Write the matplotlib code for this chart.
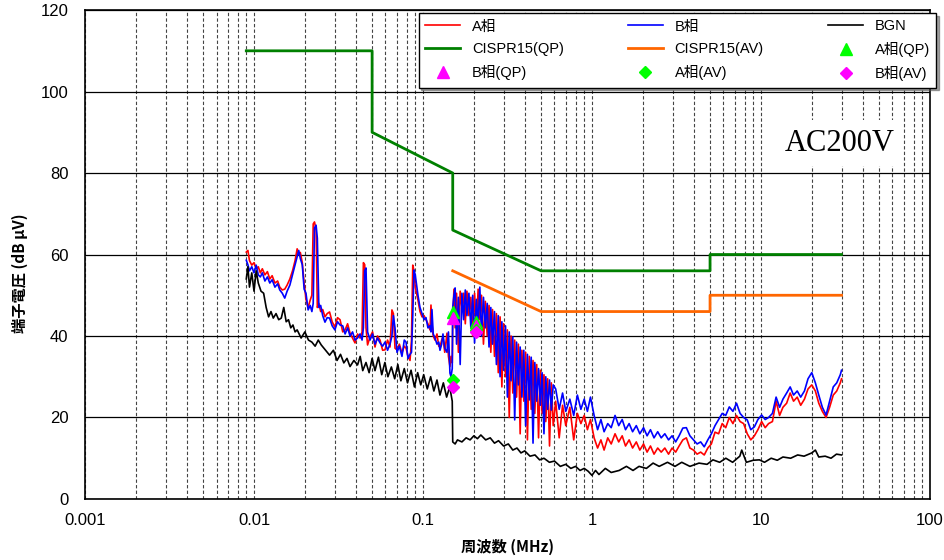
import matplotlib
matplotlib.use('Agg')
import matplotlib.pyplot as plt
from matplotlib.ticker import FixedLocator, LogLocator, NullFormatter

plt.rcParams['font.family'] = ['Liberation Sans', 'Noto Sans CJK JP', 'DejaVu Sans']

# sweep frequencies (MHz) shared by the A/B phase measurements
freq_ab = [
    0.0090, 0.0092, 0.0094, 0.0097, 0.0100, 0.0103, 0.0106, 0.0109, 0.0112, 0.0116,
    0.0120, 0.0124, 0.0128, 0.0133, 0.0138, 0.0142, 0.0147, 0.0152, 0.0157, 0.0163,
    0.0169, 0.0175, 0.0180, 0.0184, 0.0188, 0.0193, 0.0198, 0.0203, 0.0209, 0.0215,
    0.0220, 0.0224, 0.0228, 0.0233, 0.0237, 0.0242, 0.0248, 0.0255, 0.0263, 0.0271,
    0.0280, 0.0290, 0.0301, 0.0312, 0.0323, 0.0335, 0.0346, 0.0358, 0.0370, 0.0383,
    0.0396, 0.0410, 0.0424, 0.0436, 0.0444, 0.0452, 0.0460, 0.0470, 0.0486, 0.0503,
    0.0520, 0.0538, 0.0557, 0.0577, 0.0596, 0.0617, 0.0638, 0.0655, 0.0668, 0.0683,
    0.0702, 0.0725, 0.0751, 0.0775, 0.0794, 0.0815, 0.0838, 0.0855, 0.0870, 0.0885,
    0.0900, 0.0934, 0.0960, 0.0987, 0.1015, 0.1042, 0.1070, 0.1100, 0.1115, 0.1130,
    0.1150, 0.1178, 0.1210, 0.1240, 0.1261, 0.1290, 0.1313, 0.1345, 0.1387, 0.1415,
    0.1444, 0.1465, 0.1490,
    # 150 kHz band
    0.1500, 0.1525, 0.1550, 0.1580, 0.1620, 0.1660, 0.1700, 0.1740, 0.1780, 0.1820,
    0.1870, 0.1920, 0.1970, 0.2020, 0.2070, 0.2120, 0.2170, 0.2220, 0.2280, 0.2340,
    0.2400, 0.2460, 0.2520, 0.2580, 0.2650, 0.2720, 0.2790, 0.2860, 0.2930, 0.3000,
    0.3080, 0.3160, 0.3240, 0.3320, 0.3400, 0.3490, 0.3580, 0.3670, 0.3760, 0.3850,
    0.3950, 0.4050, 0.4150, 0.4260, 0.4370, 0.4480, 0.4590, 0.4710, 0.4830, 0.4950,
    0.5070, 0.5200, 0.5330, 0.5470, 0.5610, 0.5750, 0.5900,
    0.610, 0.640, 0.670, 0.700, 0.740, 0.780, 0.820, 0.860, 0.900, 0.940,
    0.980, 1.030, 1.080, 1.130, 1.180, 1.240, 1.300, 1.370, 1.440, 1.510,
    1.580, 1.660, 1.740, 1.830, 1.920, 2.020, 2.120, 2.220, 2.330, 2.450,
    2.570, 2.700, 2.840, 2.980, 3.130, 3.280, 3.450, 3.620, 3.800, 3.990,
    4.190, 4.400, 4.620, 4.850, 5.090, 5.350, 5.620, 5.900, 6.190, 6.500,
    6.830, 7.170, 7.530, 7.900, 8.300, 8.710, 9.150, 9.600, 10.10, 10.60,
    11.10, 11.70, 12.30, 12.90, 13.50, 14.20, 14.90, 15.60, 16.40, 17.20,
    18.10, 19.00, 20.00, 21.00, 22.00, 23.10, 24.30, 25.50, 26.80, 28.10,
    29.50, 30.00,
]

# A相 terminal voltage (dBuV)
level_a = [
    60.6, 61.0, 58.5, 57.4, 58.0, 56.5, 57.0, 55.5, 56.5, 55.0,
    55.8, 54.0, 54.8, 53.0, 53.5, 52.0, 51.3, 51.5, 52.5, 54.0,
    56.0, 58.5, 61.4, 60.0, 60.5, 58.0, 53.0, 49.0, 47.0, 48.8,
    50.0, 67.5, 68.0, 66.0, 47.0, 48.0, 46.0, 46.5, 44.7, 45.5,
    45.9, 43.5, 42.2, 44.5, 44.0, 41.0, 41.5, 43.0, 40.7, 39.5,
    38.3, 40.5, 39.5, 41.0, 58.0, 57.5, 42.0, 37.8, 39.8, 41.0,
    37.3, 40.0, 39.0, 36.5, 36.6, 39.0, 37.3, 46.4, 45.5, 37.0,
    36.6, 38.0, 35.8, 37.5, 37.0, 35.0, 34.0, 39.0, 57.4, 56.0,
    52.0, 48.8, 46.0, 44.7, 45.0, 44.0, 43.0, 41.5, 47.6, 43.0,
    40.0, 39.0, 40.5, 37.5, 37.3, 39.0, 39.8, 36.0, 40.7, 35.0,
    32.5, 35.0, 33.4,
    44.0, 51.5, 42.0, 50.5, 36.0, 51.0, 47.0, 50.5, 43.0, 51.0,
    45.0, 49.5, 40.0, 50.5, 41.5, 51.5, 44.0, 50.0, 38.0, 48.5,
    40.0, 47.5, 36.0, 46.5, 35.0, 45.5, 31.0, 44.7, 27.5, 43.0,
    30.0, 41.5, 20.0, 40.0, 26.0, 39.0, 25.0, 38.0, 16.0, 36.5,
    24.0, 36.0, 14.5, 35.0, 22.0, 34.0, 21.0, 33.0, 15.0, 31.6,
    21.0, 30.5, 19.0, 29.5, 13.0, 28.5, 18.0,
    24.0, 15.0, 23.0, 18.0, 22.5, 14.5, 21.0, 18.5, 20.5, 17.0,
    19.5, 15.0, 12.5, 14.5, 12.0, 15.0, 13.5, 16.0, 14.0, 15.5,
    13.0, 14.5, 12.5, 14.0, 12.0, 13.5, 11.5, 13.0, 11.0, 12.5,
    11.5, 12.5, 11.0, 12.5, 11.5, 13.0, 14.5, 15.0, 12.5, 12.0,
    11.0, 11.5, 10.8, 12.5, 13.5, 16.4, 16.0, 18.5, 17.5, 20.0,
    18.5, 20.5, 19.0, 18.5, 16.0, 14.5, 15.5, 17.0, 19.0, 17.5,
    18.5, 19.0, 24.0, 20.5, 22.5, 23.5, 26.0, 24.0, 25.0, 23.0,
    24.5, 27.0, 28.0, 26.5, 23.5, 21.5, 20.0, 22.5, 25.5, 26.5,
    28.5, 29.5,
]

# B相 terminal voltage (dBuV)
level_b = [
    58.6, 57.5, 56.0, 57.0, 55.5, 57.4, 55.0, 54.5, 55.5, 53.5,
    54.5, 53.0, 53.8, 52.0, 52.8, 51.3, 50.5, 49.3, 51.0, 52.5,
    55.0, 57.5, 59.5, 61.0, 59.0, 57.5, 51.5, 50.5, 46.4, 47.5,
    46.0, 48.0, 66.5, 67.2, 64.0, 47.0, 47.5, 45.0, 43.4, 44.5,
    44.4, 42.5, 41.5, 43.5, 42.7, 42.5, 40.5, 42.0, 40.0, 41.0,
    39.0, 39.5, 40.5, 39.0, 42.0, 56.0, 56.7, 41.0, 39.0, 40.5,
    38.0, 39.5, 38.3, 37.5, 38.5, 36.5, 38.0, 40.0, 45.0, 42.0,
    36.0, 37.5, 35.0, 39.0, 38.5, 34.5, 35.5, 36.0, 45.0, 56.2,
    55.0, 50.0, 47.0, 45.5, 44.0, 44.5, 42.0, 42.5, 41.0, 46.5,
    40.5, 39.5, 38.0, 38.5, 36.5, 38.0, 40.5, 37.0, 36.0, 41.0,
    30.9, 30.0, 32.0,
    47.0, 50.0, 51.8, 38.0, 49.5, 33.0, 50.5, 44.0, 51.3, 45.0,
    50.5, 42.0, 50.0, 38.3, 49.0, 43.0, 52.0, 40.0, 49.5, 42.0,
    48.0, 37.3, 47.0, 38.0, 46.0, 33.0, 45.0, 30.0, 43.5, 31.6,
    42.5, 25.0, 41.0, 29.0, 39.8, 19.4, 38.5, 28.0, 37.3, 25.0,
    36.5, 18.0, 35.5, 24.3, 34.8, 13.7, 33.5, 24.0, 32.0, 23.0,
    31.0, 16.0, 30.0, 22.0, 29.2, 21.8, 28.0,
    27.0, 22.0, 26.0, 21.5, 24.5, 20.5, 25.5, 22.0, 24.5, 21.5,
    25.0, 20.5, 17.0, 19.5, 16.5, 18.5, 17.5, 20.5, 18.0, 19.5,
    17.0, 18.5, 16.5, 18.0, 16.0, 17.5, 15.5, 17.0, 15.0, 16.5,
    15.0, 16.0, 14.5, 15.5, 14.0, 15.5, 17.4, 17.5, 15.5, 14.5,
    13.5, 14.0, 12.8, 14.5, 16.0, 18.0, 19.5, 21.0, 20.5, 22.6,
    21.5, 23.5, 21.0, 20.0, 19.4, 17.0, 17.7, 19.5, 20.6, 19.5,
    20.0, 21.0, 25.0, 22.5, 24.5, 26.0, 27.5, 25.5, 26.5, 25.0,
    26.5, 29.5, 31.0, 28.5, 25.5, 22.5, 20.6, 24.0, 27.5, 28.5,
    30.5, 31.6,
]

# background noise
freq_bgn = [
    0.0090, 0.0092, 0.0094, 0.0097, 0.0100, 0.0103, 0.0106, 0.0110, 0.0114, 0.0118,
    0.0122, 0.0126, 0.0130, 0.0135, 0.0140, 0.0145, 0.0150, 0.0155, 0.0160, 0.0165,
    0.0170, 0.0175, 0.0180, 0.0190, 0.0200, 0.0210, 0.0220, 0.0230, 0.0240, 0.0250,
    0.0265, 0.0280, 0.0295, 0.0310, 0.0325, 0.0340, 0.0355, 0.0370, 0.0390, 0.0410,
    0.0425, 0.0440, 0.0460, 0.0480, 0.0500, 0.0520, 0.0545, 0.0570, 0.0595, 0.0620,
    0.0650, 0.0680, 0.0710, 0.0740, 0.0775, 0.0810, 0.0850, 0.0890, 0.0930, 0.0970,
    0.1010, 0.1060, 0.1110, 0.1160, 0.1210, 0.1260, 0.1320, 0.1380, 0.1440, 0.1490,
    0.1500, 0.1550, 0.1600, 0.1700, 0.1800, 0.1900, 0.2000, 0.2100, 0.2200, 0.2350,
    0.2500, 0.2650, 0.2800, 0.3000, 0.3200, 0.3400, 0.3600, 0.3800, 0.4000, 0.4300,
    0.4600, 0.4900, 0.5200, 0.5600, 0.6000, 0.6500, 0.7000, 0.7500, 0.8000, 0.8500,
    0.9000, 0.9500, 1.0000, 1.0500, 1.1000, 1.2000, 1.3000, 1.4500, 1.6000, 1.7500,
    1.9000, 2.1000, 2.3000, 2.5000, 2.8000, 3.1000, 3.4000, 3.8000, 4.3000, 4.8000,
    5.2000, 5.7000, 6.2000, 6.8000, 7.5000, 7.7000, 8.2000, 9.0000, 9.8000, 10.500,
    11.500, 12.500, 13.500, 15.000, 16.500, 18.000, 20.000, 21.000, 22.000, 24.000,
    26.000, 28.000, 30.000,
]
level_bgn = [
    54.0, 57.0, 52.0, 55.5, 51.0, 56.0, 53.0, 51.0, 50.5, 47.0,
    44.7, 46.0, 44.4, 45.5, 44.0, 44.4, 47.0, 43.5, 44.0, 42.0,
    42.7, 41.0, 41.5, 39.5, 41.0, 39.0, 38.5, 37.5, 39.0, 37.8,
    36.5, 35.3, 36.5, 34.0, 35.5, 33.4, 34.5, 32.5, 34.0, 32.9,
    35.0, 31.5, 33.5, 31.0, 34.5, 31.5, 34.8, 30.5, 33.5, 30.0,
    32.4, 29.5, 33.0, 29.0, 32.0, 28.5, 31.6, 27.5, 31.0, 28.0,
    30.5, 27.0, 30.0, 26.5, 29.2, 25.5, 28.5, 25.0, 27.5, 24.0,
    14.0, 13.5, 14.5, 14.0, 15.0, 14.5, 15.5, 14.8, 15.7, 14.5,
    15.0, 13.7, 14.3, 13.0, 13.5, 12.0, 12.5, 11.3, 11.8, 10.5,
    10.8, 9.6, 10.0, 9.0, 9.3, 8.0, 8.5, 7.5, 8.0, 7.0,
    7.5, 6.8, 5.8, 7.0, 6.0, 7.5, 6.5, 7.0, 8.0, 7.0,
    8.0, 7.5, 8.8, 8.0, 9.0, 8.0, 9.0, 8.0, 8.8, 8.5,
    9.6, 9.0, 10.0, 9.0, 10.5, 12.0, 9.0, 9.5, 9.6, 9.0,
    10.0, 9.5, 10.3, 10.0, 10.8, 10.5, 11.3, 12.0, 10.3, 10.5,
    10.0, 11.0, 10.8,
]

# CISPR15 limit lines
qp_freq = [0.009, 0.05, 0.05, 0.15, 0.15, 0.5, 5, 5, 30]
qp_limit = [110, 110, 90, 80, 66, 56, 56, 60, 60]
av_freq = [0.15, 0.5, 5, 5, 30]
av_limit = [56, 46, 46, 50, 50]

# final QP / AV measurements
peak_freq = [0.15, 0.205]
a_qp = [46.0, 43.5]
b_qp = [44.5, 42.5]
a_av = [29.2, 41.5]
b_av = [27.5, 41.0]

xtick_vals = [0.001, 0.01, 0.1, 1, 10, 100]
xtick_labels = ['0.001', '0.01', '0.1', '1', '10', '100']

fig = plt.figure(figsize=(9.45, 5.6), dpi=100)
ax = fig.add_axes([0.090, 0.109, 0.894, 0.873])

h_a, = ax.plot(freq_ab, level_a, color='#ff0000', lw=1.2, label='A相')
h_b, = ax.plot(freq_ab, level_b, color='#0000ff', lw=1.2, label='B相')
h_n, = ax.plot(freq_bgn, level_bgn, color='black', lw=1.2, label='BGN')
h_qp, = ax.plot(qp_freq, qp_limit, color='#008000', lw=2.0, label='CISPR15(QP)')
h_av, = ax.plot(av_freq, av_limit, color='#ff6600', lw=2.0, label='CISPR15(AV)')
h_aqp, = ax.plot(peak_freq, a_qp, '^', color='#00ff00', ms=9, ls='none', label='A相(QP)')
h_bqp, = ax.plot(peak_freq, b_qp, '^', color='#ff00ff', ms=9, ls='none', label='B相(QP)')
h_aav, = ax.plot(peak_freq, a_av, 'D', color='#00ff00', ms=6.5, ls='none', label='A相(AV)')
h_bav, = ax.plot(peak_freq, b_av, 'D', color='#ff00ff', ms=6.5, ls='none', label='B相(AV)')

ax.set_xscale('log')
ax.set_xlim(0.001, 100)
ax.set_ylim(0, 120)
ax.xaxis.set_major_locator(FixedLocator(xtick_vals))
ax.set_xticklabels(xtick_labels)
ax.xaxis.set_minor_locator(LogLocator(base=10, subs=range(2, 10)))
ax.xaxis.set_minor_formatter(NullFormatter())
ax.set_yticks(range(0, 121, 20))

ax.grid(which='both', axis='x', color='#444444', lw=0.8, ls=(0, (3, 2)))
ax.grid(which='major', axis='y', color='black', lw=0.9)
ax.set_axisbelow(True)
ax.tick_params(which='both', length=0)
ax.tick_params(axis='x', pad=10, labelsize=12)
ax.tick_params(axis='y', pad=12, labelsize=12)
for s in ax.spines.values():
    s.set_linewidth(1.2)

ax.set_xlabel('周波数 (MHz)', family=['Noto Sans CJK JP'], fontsize=11,
              fontweight='bold', labelpad=8)
ax.set_ylabel('端子電圧 (dB μV)', family=['Noto Sans CJK JP'], fontsize=11,
              fontweight='bold')
ax.yaxis.set_label_coords(-0.068, 0.462)

ax.text(0.893, 0.728, 'AC200V', transform=ax.transAxes, family='Liberation Serif',
        fontsize=22, ha='center', va='center',
        bbox=dict(facecolor='white', edgecolor='none', pad=6))

# row-wise legend order for 3 columns
handles = [h_a, h_qp, h_bqp, h_b, h_av, h_aav, h_n, h_aqp, h_bav]
leg = fig.legend(handles=handles, ncol=3, loc='upper left',
                 bbox_to_anchor=(0.443, 0.845, 0.548, 0.132), mode='expand',
                 fontsize=10.5, frameon=True, fancybox=False, shadow=True,
                 edgecolor='black', handlelength=2.4, labelspacing=0.6,
                 borderaxespad=0, borderpad=0.45)
leg.get_frame().set_linewidth(1.0)

fig.savefig('out.png', dpi=100)
